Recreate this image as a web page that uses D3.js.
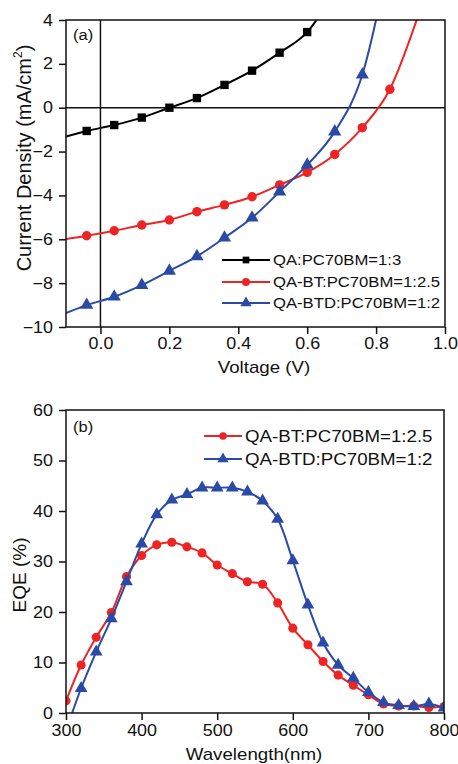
<!DOCTYPE html>
<html>
<head>
<meta charset="utf-8">
<script src="https://cdn.jsdelivr.net/npm/d3@7"></script>
<style>
  body { margin: 0; background: #fff; }
  svg { display: block; font-family: "Liberation Sans", Arial, sans-serif; }
  .tick text { fill: #111; }
</style>
</head>
<body>
<div class="container"></div>
<script>
// ---- panel (a): J-V curves ----
var voltage = [-0.04, 0.04, 0.12, 0.20, 0.28, 0.36, 0.44, 0.52, 0.60, 0.68, 0.76, 0.84];
var jQA    = [-1.06, -0.79, -0.45, 0.00, 0.44, 1.04, 1.69, 2.51, 3.45];
var jQABT  = [-5.84, -5.61, -5.35, -5.12, -4.74, -4.43, -4.06, -3.52, -2.95, -2.13, -0.91, 0.84];
var jQABTD = [-9.00, -8.62, -8.09, -7.44, -6.78, -5.93, -5.02, -3.83, -2.61, -1.09, 1.50];
// where each curve enters at V=-0.1 and leaves past the top
var qaEnds    = [[-0.1, -1.32], [0.68, 5.3]];
var qabtEnds  = [[-0.1, -5.99], [0.92, 4.1]];
var qabtdEnds = [[-0.1, -9.36], [0.84, 7.0]];
var jvLabels = ["QA:PC70BM=1:3", "QA-BT:PC70BM=1:2.5", "QA-BTD:PC70BM=1:2"];
var vTicks = [0.0, 0.2, 0.4, 0.6, 0.8, 1.0];
var jTicks = [-10, -8, -6, -4, -2, 0, 2, 4];

// ---- panel (b): EQE ----
var wavelength = [300, 320, 340, 360, 380, 400, 420, 440, 460, 480, 500, 520, 540,
                  560, 580, 600, 620, 640, 660, 680, 700, 720, 740, 760, 780, 800];
var eqeBT  = [2.4, 9.5, 15.0, 19.9, 27.0, 31.2, 33.3, 33.8, 32.9, 31.7, 29.3, 27.6, 26.0,
              25.5, 21.8, 16.8, 13.5, 10.2, 7.5, 5.5, 3.6, 1.8, 1.4, 1.4, 1.1, 1.3];
var eqeBTD = [-3.5, 4.9, 12.1, 18.7, 26.0, 33.5, 39.3, 42.2, 43.3, 44.6, 44.6, 44.6, 43.8,
              42.0, 38.4, 30.2, 21.4, 13.9, 9.5, 6.9, 4.1, 2.1, 1.5, 1.3, 1.8, 1.0];
var eqeLabels = ["QA-BT:PC70BM=1:2.5", "QA-BTD:PC70BM=1:2"];
var wTicks = [300, 400, 500, 600, 700, 800];
var eTicks = [0, 10, 20, 30, 40, 50, 60];

const WIDTH = 458;
const HEIGHT = 764;
const BLACK = "#000", RED = "#ee2424", BLUE = "#2a4aa6";
const STRETCH = 1.12;

var svg = d3.select('.container').append('svg')
	.attr('width', WIDTH)
	.attr('height', HEIGHT);

// the source figure is a bit wider than tall, so horizontal text is widened
var stretch = function(sel, k){
	sel.each(function(){
		var t = d3.select(this);
		var x = +t.attr('x') || 0;
		t.attr('x', x / k).attr('transform', 'scale(' + k + ',1)');
	});
};

var symbolOf = { square: d3.symbolSquare, circle: d3.symbolCircle, triangle: d3.symbolTriangle };

var drawFrame = function(g, x, y, xMajor, xMinor, yMajor, yMinor, xFmt, yFmt, xPad){
	var r = x.range(), h = y.range();
	var xa = g.append('g').attr('transform', 'translate(0,' + h[0] + ')');
	xa.call(d3.axisBottom(x).tickValues(xMinor).tickSize(4).tickFormat(''));
	xa.call(d3.axisBottom(x).tickValues(xMajor).tickSize(7).tickPadding(xPad).tickFormat(xFmt));
	var ya = g.append('g').attr('transform', 'translate(' + r[0] + ',0)');
	ya.call(d3.axisLeft(y).tickValues(yMinor).tickSize(4).tickFormat(''));
	ya.call(d3.axisLeft(y).tickValues(yMajor).tickSize(7).tickPadding(6).tickFormat(yFmt));
	g.selectAll('.domain').remove();
	g.selectAll('.tick line').attr('stroke', '#111').attr('stroke-width', 1.5);
	g.selectAll('.tick text').attr('font-size', 16);
	stretch(g.selectAll('.tick text'), STRETCH);
	g.append('rect')
		.attr('x', r[0]).attr('y', h[1])
		.attr('width', r[1] - r[0]).attr('height', h[0] - h[1])
		.attr('fill', 'none').attr('stroke', '#111').attr('stroke-width', 1.5);
};

var drawSeries = function(g, x, y, pts, marks, color, shape, size, curve){
	g.append('path')
		.attr('d', d3.line().curve(curve)
			.x(function(d){ return x(d[0]); })
			.y(function(d){ return y(d[1]); })(pts))
		.attr('fill', 'none').attr('stroke', color).attr('stroke-width', 2);
	g.selectAll(null).data(marks).enter().append('path')
		.attr('d', d3.symbol().type(symbolOf[shape]).size(size))
		.attr('transform', function(d){ return 'translate(' + x(d[0]) + ',' + y(d[1]) + ')'; })
		.attr('fill', color);
};

var drawLegend = function(g, x0, x1, rows, fontSize, k){
	rows.forEach(function(row, i){
		var yy = row.y;
		g.append('line').attr('x1', x0).attr('x2', x1).attr('y1', yy).attr('y2', yy)
			.attr('stroke', row.color).attr('stroke-width', 2);
		g.append('path')
			.attr('d', d3.symbol().type(symbolOf[row.shape]).size(row.size))
			.attr('transform', 'translate(' + ((x0 + x1) / 2) + ',' + yy + ')')
			.attr('fill', row.color);
		var t = g.append('text').attr('x', x1 + 3).attr('y', yy + fontSize * 0.36)
			.attr('font-size', fontSize).attr('fill', '#111').text(row.label);
		stretch(t, k);
	});
};

// ================= panel (a) =================
var xA = d3.scaleLinear().domain([-0.1, 1.0]).range([66, 445]);
var yA = d3.scaleLinear().domain([-10, 4]).range([327, 20]);

svg.append('clipPath').attr('id', 'clipA').append('rect')
	.attr('x', 66).attr('y', 20).attr('width', 445 - 66).attr('height', 327 - 20);

var gA = svg.append('g');
var plotA = gA.append('g').attr('clip-path', 'url(#clipA)');

// zero lines
plotA.append('line').attr('x1', xA(-0.1)).attr('x2', xA(1.0)).attr('y1', yA(0)).attr('y2', yA(0))
	.attr('stroke', '#111').attr('stroke-width', 1.5);
plotA.append('line').attr('x1', xA(0)).attr('x2', xA(0)).attr('y1', yA(4)).attr('y2', yA(-10))
	.attr('stroke', '#111').attr('stroke-width', 1.5);

var pairs = function(vals){ return vals.map(function(j, i){ return [voltage[i], j]; }); };
var withEnds = function(vals, ends){ return [ends[0]].concat(pairs(vals), [ends[1]]); };

drawSeries(plotA, xA, yA, withEnds(jQA, qaEnds), pairs(jQA), BLACK, 'square', 70, d3.curveMonotoneX);
drawSeries(plotA, xA, yA, withEnds(jQABT, qabtEnds), pairs(jQABT), RED, 'circle', 70, d3.curveMonotoneX);
drawSeries(plotA, xA, yA, withEnds(jQABTD, qabtdEnds), pairs(jQABTD), BLUE, 'triangle', 75, d3.curveMonotoneX);

drawFrame(gA, xA, yA, vTicks, d3.range(-0.1, 1.01, 0.1), jTicks, d3.range(-10, 4.5, 1),
	d3.format('.1f'), d3.format('d'), 4);

drawLegend(gA, 222, 270, [
	{ y: 260, color: BLACK, shape: 'square', size: 45, label: jvLabels[0] },
	{ y: 282, color: RED, shape: 'circle', size: 50, label: jvLabels[1] },
	{ y: 303, color: BLUE, shape: 'triangle', size: 55, label: jvLabels[2] }
], 14.5, 1.15);

stretch(gA.append('text').attr('x', 73).attr('y', 40).attr('font-size', 15).attr('fill', '#111').text('(a)'), 1.1);
stretch(gA.append('text').attr('x', 264).attr('y', 373).attr('text-anchor', 'middle')
	.attr('font-size', 16).attr('fill', '#111').text('Voltage (V)'), 1.17);

var titleA = gA.append('text')
	.attr('transform', 'translate(31,158) rotate(-90)')
	.attr('text-anchor', 'middle').attr('font-size', 20).attr('fill', '#111');
titleA.append('tspan').text('Current Density (mA/cm');
titleA.append('tspan').attr('font-size', 12).attr('dy', -9).text('2');
titleA.append('tspan').attr('dy', 9).text(')');

// ================= panel (b) =================
var xB = d3.scaleLinear().domain([300, 800]).range([66, 444]);
var yB = d3.scaleLinear().domain([0, 60]).range([713, 410]);

svg.append('clipPath').attr('id', 'clipB').append('rect')
	.attr('x', 66).attr('y', 410).attr('width', 444 - 66).attr('height', 713 - 410);

var gB = svg.append('g');
var plotB = gB.append('g').attr('clip-path', 'url(#clipB)');

var eqePairs = function(vals){ return vals.map(function(e, i){ return [wavelength[i], e]; }); };

drawSeries(plotB, xB, yB, eqePairs(eqeBT), eqePairs(eqeBT), RED, 'circle', 65, d3.curveCatmullRom.alpha(0.5));
drawSeries(plotB, xB, yB, eqePairs(eqeBTD), eqePairs(eqeBTD), BLUE, 'triangle', 70, d3.curveCatmullRom.alpha(0.5));

drawFrame(gB, xB, yB, wTicks, d3.range(300, 801, 50), eTicks, d3.range(0, 61, 5),
	d3.format('d'), d3.format('d'), 5);

drawLegend(gB, 204, 242, [
	{ y: 436, color: RED, shape: 'circle', size: 45, label: eqeLabels[0] },
	{ y: 459, color: BLUE, shape: 'triangle', size: 55, label: eqeLabels[1] }
], 17, 1.1);

stretch(gB.append('text').attr('x', 73).attr('y', 432).attr('font-size', 15).attr('fill', '#111').text('(b)'), 1.1);
stretch(gB.append('text').attr('x', 254).attr('y', 760).attr('text-anchor', 'middle')
	.attr('font-size', 16).attr('fill', '#111').text('Wavelength(nm)'), 1.17);

gB.append('text')
	.attr('transform', 'translate(26,575) rotate(-90)')
	.attr('text-anchor', 'middle').attr('font-size', 19).attr('fill', '#111')
	.text('EQE (%)');
</script>
</body>
</html>
